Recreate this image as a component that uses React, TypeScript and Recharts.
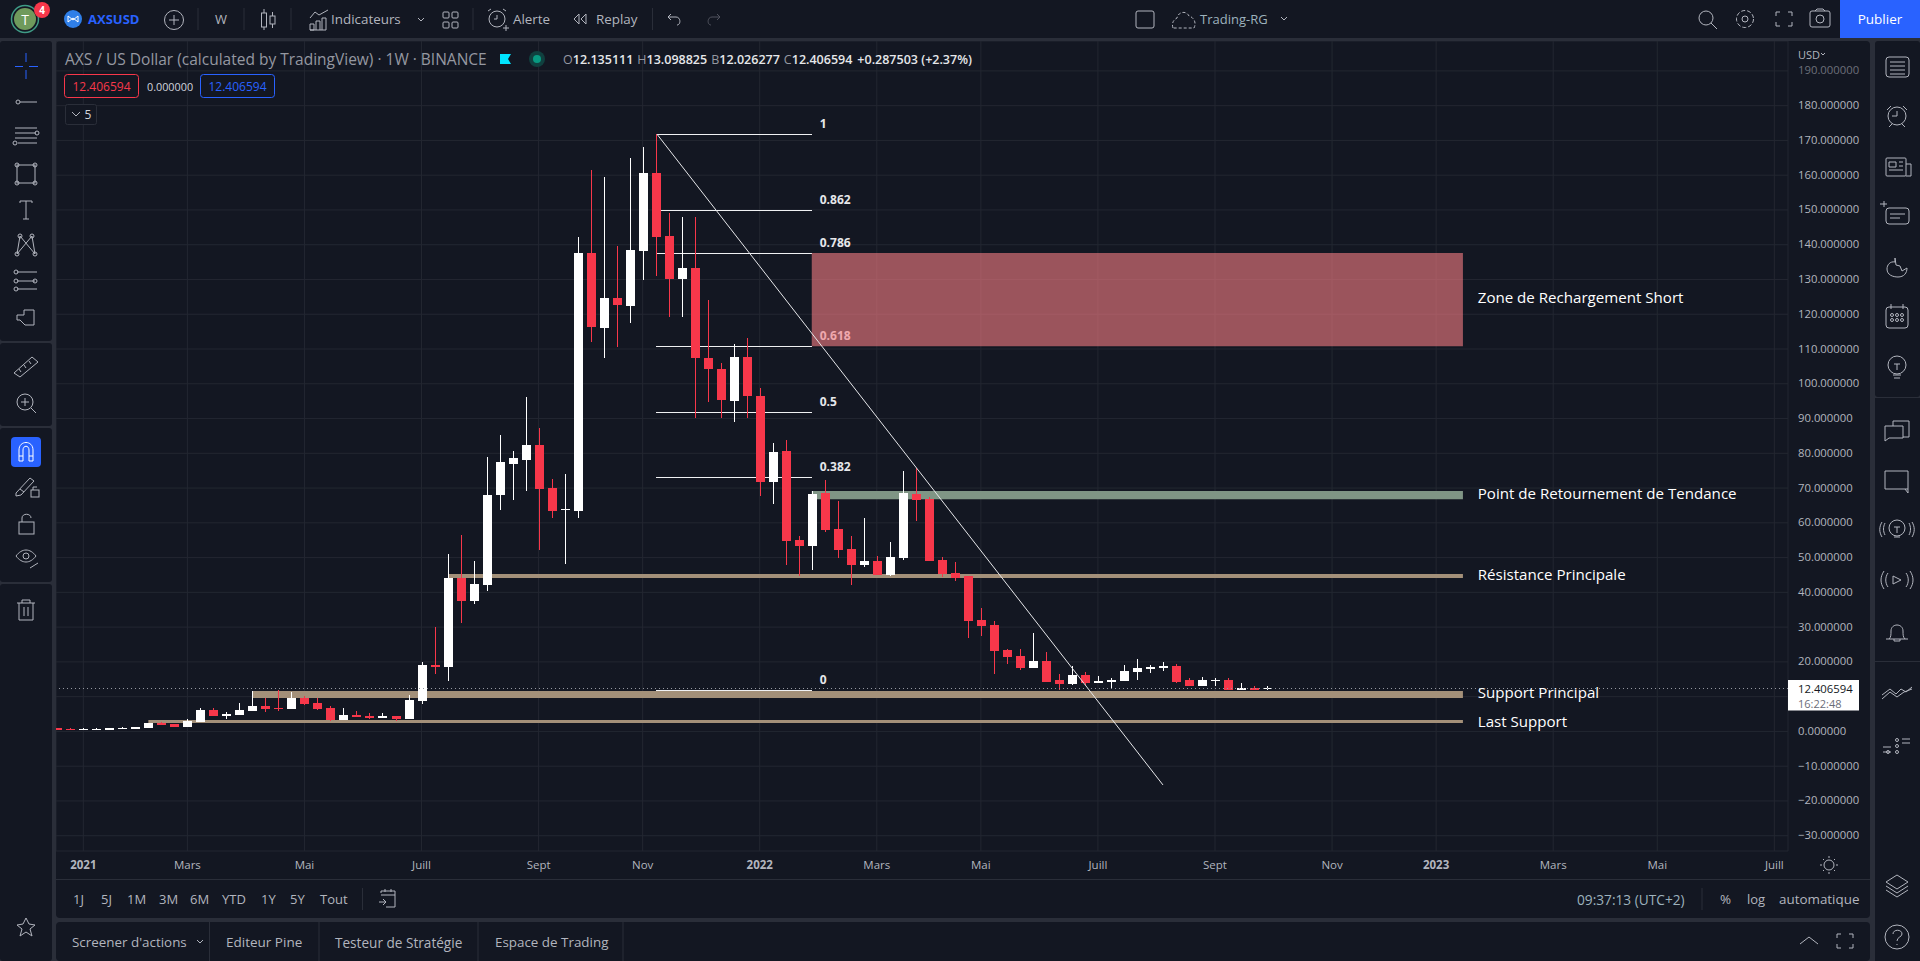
import React from 'react';
import { ComposedChart, Bar, XAxis, YAxis, CartesianGrid, ReferenceLine, ReferenceArea, ReferenceDot } from 'recharts';

const FONT = '"Open Sans", "Noto Sans", sans-serif';
const BG = '#131722';
const GAP = '#2a2e39';
const GRID = '#232731';
const ICON = '#b2b5be';
const RED = '#f7374a';
const BLUE = '#2962ff';
const TAN = '#a39079';

// Weekly candles, first one is week -2 relative to the first week of January 2021
const firstWeek = -2;
const opens = [0.95,0.67,0.38,0.38,0.38,0.67,0.67,0.95,2.39,2.1,1.24,2.68,6.13,4.4,4.69,5.84,7.28,6.71,6.42,9.58,8.15,6.71,3.25,4.69,4.4,3.83,4.4,3.54,8.72,19.08,18.5,44.1,37.5,42.1,68,76.9,78,82.4,69.9,63.6,63.4,137.6,116,124.7,122.4,138.2,160.6,142.5,130.1,133.3,107.4,104.2,95,107.7,96.5,71.7,80.6,55,53.3,68.6,58.2,52.4,47.9,49,44.9,49.8,68.2,66.8,49.2,45.5,44.7,32,30.6,23.4,21.7,18.2,20.2,14.8,13.6,16.2,13.9,14.2,14.5,17.1,17.9,18.2,18.8,14.8,13,14.6,14.8,11.9,12.45,12.135];
const highs = [0.95,0.95,0.95,0.95,0.95,1.24,1.24,2.39,2.68,2.1,3.54,6.71,6.71,5.56,8.15,11.6,9.58,11.9,11.3,10.16,9.58,7.28,6.71,5.84,5.27,5.27,4.4,10.45,19.94,30,50.9,56.4,49,79,85.2,80.6,96.1,87.2,72.6,74.1,142.2,161.5,159.5,139.6,165,168.1,171.8,149.1,148,148,124.1,105.9,111.4,113.2,98.7,82.9,83.8,56.2,69.1,72.3,66.2,56.2,61.3,50.4,54.5,74.8,75.8,67.4,50.2,48.7,44.7,35.5,31.7,23.7,23.7,28.3,22.8,16.5,18.8,17.1,15.9,15.3,19.1,20.8,19.1,20,19.4,15.3,15.6,15.3,15.3,13.9,13,13.098];
const lows = [0.38,0.38,0.38,0.38,0.38,0.67,0.67,0.95,1.82,1.24,1.24,2.68,4.4,3.54,4.69,5.84,5.56,5.84,6.42,7.57,6.13,2.97,3.25,4.1,3.54,3.83,2.97,3.54,7.86,16.5,14.3,31.1,36.6,40.4,63.7,66.5,69.2,52.2,61.3,48.2,61.3,112,107.4,110.6,117.5,129.8,130.9,119.3,119.3,90.2,94.8,90.2,89.1,90.2,67.7,65.4,47.9,44.7,46.4,57.2,49.8,42.2,47.3,44.9,44.7,49.2,60.5,49,44.4,43.2,26.8,27.4,16.5,19.4,17.6,18.2,14.2,11.9,13.3,13.3,13.9,12.5,14.5,14.8,16.8,17.3,13.9,13,13,13,11.9,11.9,11.9,12.026];
const closes = [0.38,0.38,0.67,0.67,0.95,0.95,1.24,2.39,1.82,1.24,2.97,6.13,4.4,4.98,6.13,7.28,6.42,6.42,9.58,7.86,6.42,3.25,4.69,4.1,3.83,4.4,3.54,9,19.08,18.5,44.1,37.5,42.4,68,77.5,78.6,82.4,69.7,63.4,63.9,137.6,116.2,124.7,122.6,138.4,160.6,142.2,130.1,133.3,107.4,104.2,95.3,107.7,96.5,71.7,80.3,54.7,53.3,68.2,57.9,52.2,47.9,49,44.9,50.2,68.6,66.5,49,45.3,44.1,31.7,30.3,23.1,21.4,18.2,20.2,14.2,13.6,16.2,13.9,14.5,14.8,17.4,18.2,18.5,18.8,14.2,13,14.8,14.8,11.9,12.45,11.9,12.406];

// Axes
const tickWeeks = [0,8,17,26,35,43,52,61,69,78,87,96,104,113,121,130];
const tickLabels = ['2021','Mars','Mai','Juill','Sept','Nov','2022','Mars','Mai','Juill','Sept','Nov','2023','Mars','Mai','Juill'];
const priceTicks = [190,180,170,160,150,140,130,120,110,100,90,80,70,60,50,40,30,20,10,0,-10,-20,-30];
const lastPrice = 12.406594;

// Drawings
const zoneStart = 56;
const zoneEnd = 106.06;
const zoneStarts = [5, 13, 28.1, 56];
const zoneLows = [2.39, 9.6, 44.1, 66.76];
const zoneHighs = [3.25, 11.6, 45.3, 69.15];
const zoneColors = [TAN, TAN, TAN, '#7f9585'];
const shortZone = [110.8, 137.6];
const fibLabels = ['1','0.862','0.786','0.618','0.5','0.382','0'];
const fibPrices = [171.8,149.8,137.4,110.7,91.8,73.1,11.7];
const fibStart = 44;
const trendWeeks = [44.1, 83];
const trendPrices = [171.8, -15.4];
const noteLabels = ['Zone de Rechargement Short','Point de Retournement de Tendance','Résistance Principale','Support Principal','Last Support'];
const notePrices = [124.9, 68.7, 45.4, 11.3, 3.1];
const noteWeek = 107.2;

const rows = opens.map((o, i) => ({
  week: firstWeek + i,
  range: [lows[i], highs[i]],
  open: o,
  high: highs[i],
  low: lows[i],
  close: closes[i],
}));

function Candle(p: any) {
  const { x, y, width, height, payload } = p;
  const { open, high, low, close } = payload;
  const span = high - low || 1;
  const cx = Math.round(x + width / 2);
  const yAt = (v: number) => y + ((high - v) / span) * height;
  const top = Math.round(yAt(Math.max(open, close)));
  const bot = Math.round(yAt(Math.min(open, close)));
  const color = close >= open ? '#ffffff' : RED;
  return (
    <g shapeRendering="crispEdges">
      <rect x={cx} y={Math.round(y)} width={1} height={Math.max(1, Math.round(height))} fill={color} />
      <rect x={cx - 4} y={top} width={9} height={Math.max(1, bot - top)} fill={color} />
    </g>
  );
}

function XTick(p: any) {
  const idx = tickWeeks.indexOf(p.payload.value);
  const label = tickLabels[idx];
  const year = label.length === 4 && /^\d/.test(label);
  return (
    <text x={p.x} y={864 - 41} textAnchor="middle" dominantBaseline="central" fontFamily={FONT} fontSize={11.5} fontWeight={year ? 700 : 400} fill="#b2b5be">
      {label}
    </text>
  );
}

function YTick(p: any) {
  const v = p.payload.value;
  return (
    <text x={1798 - 56} y={p.y - 1} dominantBaseline="central" fontFamily={FONT} fontSize={11.3} fill={v === 190 ? '#6d707a' : '#b2b5be'}>
      {(v < 0 ? '\u2212' + Math.abs(v) : String(v)) + '.000000'}
    </text>
  );
}

function Chart() {
  return (
    <ComposedChart width={1814} height={838} data={rows} margin={{ top: 0, right: 0, bottom: 0, left: 0 }} style={{ position: 'absolute', left: 56, top: 41 }}>
      <CartesianGrid stroke={GRID} strokeWidth={1} />
      <XAxis dataKey="week" type="number" domain={[-2.1, 131.05]} allowDataOverflow ticks={tickWeeks} interval={0} height={28} axisLine={false} tickLine={false} tick={<XTick />} />
      <YAxis orientation="right" type="number" domain={[-34.4, 198.6]} allowDataOverflow ticks={priceTicks} interval={0} width={82} axisLine={false} tickLine={false} tick={<YTick />} />
      {fibPrices.map((v, i) => (
        <ReferenceDot key={'fl' + i} x={zoneStart} y={v} r={0} zIndex={10} ifOverflow="visible" shape={(s: any) => (
          <text x={s.cx + 8} y={s.cy - 11} dominantBaseline="central" fontFamily={FONT} fontSize={12} fontWeight={700} fill="#e6e7ea">{fibLabels[i]}</text>
        )} />
      ))}
      {fibPrices.map((v, i) => (
        <ReferenceLine key={'f' + i} segment={[{ x: fibStart, y: v }, { x: zoneStart, y: v }]} stroke="#f0f1f3" strokeWidth={1} shapeRendering="crispEdges" zIndex={11} />
      ))}
      <ReferenceArea x1={zoneStart} x2={zoneEnd} y1={shortZone[0]} y2={shortZone[1]} fill="#f67d83" fillOpacity={0.6} stroke="none" zIndex={12} />
      {zoneStarts.map((s, i) => (
        <ReferenceArea key={'z' + i} x1={s} x2={zoneEnd} y1={zoneLows[i]} y2={zoneHighs[i]} fill={zoneColors[i]} fillOpacity={1} stroke="none" zIndex={13} />
      ))}
      <Bar dataKey="range" barSize={9} isAnimationActive={false} shape={<Candle />} zIndex={20} />
      <ReferenceLine segment={[{ x: trendWeeks[0], y: trendPrices[0] }, { x: trendWeeks[1], y: trendPrices[1] }]} stroke="#e6e7ea" strokeWidth={1} zIndex={30} />
      <ReferenceLine y={lastPrice} stroke="#9598a1" strokeDasharray="1 3" strokeWidth={1} shapeRendering="crispEdges" zIndex={31} />
      {noteLabels.map((t, i) => (
        <ReferenceDot key={'n' + i} x={noteWeek} y={notePrices[i]} r={0} zIndex={32} shape={(s: any) => (
          <text x={s.cx} y={s.cy} dominantBaseline="central" fontFamily={FONT} fontSize={15.1} fill="#ffffff">{t}</text>
        )} />
      ))}
    </ComposedChart>
  );
}

function Tx({ x, y, s = 13.4, c = '#b2b5be', w = 400, a = 'start', children }: any) {
  return <text x={x} y={y} fontFamily={FONT} fontSize={s} fill={c} fontWeight={w} textAnchor={a} dominantBaseline="central">{children}</text>;
}

function G({ x, y, children, c = ICON, sw = 1 }: any) {
  return <g transform={`translate(${x},${y})`} fill="none" stroke={c} strokeWidth={sw}>{children}</g>;
}

const leftIcons: Array<[number, React.ReactNode]> = [
  [102, <><circle cx={-8} r={2} /><path d="M-6 0H11" /></>],
  [134, <><path d="M-11 -6H11M-11 -1H10M-11 4H11M-8 9H11" /><circle cx={11} cy={-1} r={2} /><circle cx={-11} cy={9} r={2} /></>],
  [174, <><rect x={-9} y={-9} width={18} height={18} /><circle cx={-9} cy={-9} r={2} /><circle cx={9} cy={-9} r={2} /><circle cx={-9} cy={9} r={2} /><circle cx={9} cy={9} r={2} /></>],
  [210, <path d="M-6 -9H6M0 -9V9M-3 9H3M-6 -9V-7M6 -9V-7" />],
  [245, <><path d="M-9 9L-6 -9L9 9L6 -9L-9 9" /><circle cx={-9} cy={9} r={2} /><circle cx={-6} cy={-9} r={2} /><circle cx={9} cy={9} r={2} /><circle cx={6} cy={-9} r={2} /></>],
  [281, <><path d="M-9 -9H11M-9 0H9M-9 8H11" /><circle cx={-10} cy={-9} r={2} /><circle cx={-10} cy={0} r={2} /><circle cx={-10} cy={8} r={2} /><circle cx={9} cy={0} r={2} /></>],
  [317, <path d="M-9 -2H-2L-2 -7H8V8H-1L-6 3H-9Z" />],
  [367, <path d="M-12 6L6 -10L12 -5L-6 10ZM-7 2L-5 5M-2 -2L0 1M3 -6L5 -3" />],
  [402, <><circle cx={-1} cy={0} r={8} /><path d="M5 6L10 11M-5 0H3M-1 -4V4" /></>],
  [486, <><path d="M-10 7L4 -8L8 -5L-5 9L-10 10ZM-6 3L-2 6" /><rect x={5} y={4} width={8} height={7} /><path d="M7 4V1H11" /></>],
  [524, <><rect x={-7} y={-2} width={15} height={12} /><path d="M-4 -2V-6C-4 -11 5 -11 5 -6" /></>],
  [558, <><path d="M-10 -2C-4 -10 4 -10 10 -2C4 6 -4 6 -10 -2Z" /><circle cx={0} cy={-2} r={3} /><path d="M4 10L12 5" /></>],
  [610, <><path d="M-9 -7H9M-4 -7V-10H4V-7M-7 -7V10H7V-7M-2 -3V6M2 -3V6" /></>],
  [927, <path d="M0 -9L3 -3L9 -2L4 2L6 9L0 5L-6 9L-4 2L-9 -2L-3 -3Z" />],
];

const rightIcons: Array<[number, React.ReactNode]> = [
  [67, <><rect x={-11} y={-10} width={23} height={20} rx={3} /><path d="M-7 -5H8M-7 -1H8M-7 3H8M-7 7H8" /></>],
  [116, <><circle cx={0} cy={0} r={9} /><path d="M0 -5V0H-5M-10 -6L-6 -10M10 -6L6 -10M-5 8L-8 11M5 8L8 11" /></>],
  [167, <><rect x={-11} y={-9} width={20} height={18} rx={1} /><path d="M9 -3H14V9H9M-8 -5H-1V0H-8ZM2 -5H6M2 -1H6M-8 3H6" /></>],
  [215, <><rect x={-11} y={-7} width={23} height={16} rx={3} /><path d="M-7 -1H8M-7 3H3M-17 -11H-10M-13 -14V-8" /></>],
  [268, <path d="M-2 -10V-6C-7 -7 -10 -3 -10 1C-10 7 -4 9 1 9C7 9 10 5 10 0L5 3L3 -2L-1 -3Z" />],
  [317, <><rect x={-11} y={-10} width={22} height={21} rx={3} /><path d="M-6 -13V-8M6 -13V-8" /><circle cx={-5} cy={-2} r={1.5} /><circle cx={0} cy={-2} r={1.5} /><circle cx={5} cy={-2} r={1.5} /><circle cx={-5} cy={3} r={1.5} /><circle cx={0} cy={3} r={1.5} /><circle cx={5} cy={3} r={1.5} /></>],
  [367, <><circle cx={0} cy={-2} r={9} /><path d="M-4 8H4M-3 11H3M-3 -3H3M0 -3V3" /></>],
  [430, <><path d="M-12 -4H6V8H-8L-12 11ZM-4 -4V-9H12V7H6" /></>],
  [481, <path d="M-12 -10H11V8H3L-1 8L-12 8ZM8 8L11 12V8" />],
  [530, <><circle cx={0} cy={-2} r={8} /><path d="M-3 7H3M-3 -3H3M0 -3V3M-12 -7C-14 -3 -14 1 -12 5M12 -7C14 -3 14 1 12 5M-15 -8C-18 -3 -18 2 -15 7M15 -8C18 -3 18 2 15 7" /></>],
  [580, <><path d="M-4 -4L4 0L-4 4ZM-9 -7C-12 -3 -12 3 -9 7M9 -7C12 -3 12 3 9 7M-13 -9C-17 -3 -17 3 -13 9M13 -9C17 -3 17 3 13 9" /></>],
  [631, <path d="M-11 8H11M-8 8C-6 6 -6 4 -6 0C-6 -8 6 -8 6 0C6 4 6 6 8 8M-3 8V10H3V8" />],
  [693, <path d="M-15 6L-7 -1L0 4L7 -1L15 -4M-15 2L-7 -4L-1 1L4 -4L9 -1L15 -6" />],
  [743, <><circle cx={-9} cy={9} r={1.5} /><circle cx={0} cy={9} r={1.5} /><circle cx={0} cy={3} r={1.5} /><circle cx={0} cy={-3} r={1.5} /><path d="M-14 4H-6M-14 9H-6M5 -4H13M5 0H13" /></>],
  [885, <path d="M0 -10L11 -3L0 4L-11 -3ZM-11 1L0 8L11 1M-11 5L0 12L11 5" />],
  [937, <><circle cx={0} cy={0} r={12} /><path d="M-4 -3C-4 -8 5 -8 5 -3C5 0 0 0 0 4M0 7V8" /></>],
];

function Back() {
  return (
    <svg width={1920} height={961} style={{ position: 'absolute', left: 0, top: 0 }}>
      <rect width={1920} height={961} fill={GAP} />
      <rect x={0} y={0} width={1920} height={38} fill={BG} />
      <rect x={0} y={41} width={52} height={300} rx={3} fill={BG} />
      <rect x={0} y={343} width={52} height={83} rx={3} fill={BG} />
      <rect x={0} y={428} width={52} height={154} rx={3} fill={BG} />
      <rect x={0} y={584} width={52} height={377} rx={3} fill={BG} />
      <rect x={56} y={41} width={1814} height={877} rx={4} fill={BG} />
      <rect x={56} y={922} width={1814} height={39} rx={4} fill={BG} />
      <rect x={1875} y={41} width={45} height={356} rx={3} fill={BG} />
      <rect x={1875} y={398} width={45} height={263} fill={BG} />
      <rect x={1875} y={662} width={45} height={299} fill={BG} />
      <path d="M56 879.5H1870" stroke={GAP} />
    </svg>
  );
}

function Front() {
  const sep = (x: number, y1 = 8, y2 = 30) => <path d={`M${x} ${y1}V${y2}`} stroke={GAP} />;
  return (
    <svg width={1920} height={961} style={{ position: 'absolute', left: 0, top: 0, pointerEvents: 'none' }}>
      {/* top bar */}
      <circle cx={25} cy={19} r={13.5} fill="none" stroke="#3f9b86" strokeWidth={1.5} />
      <circle cx={25} cy={19} r={11} fill="#6f9a5c" />
      <Tx x={25} y={19} s={14} c="#fff" a="middle">T</Tx>
      <circle cx={42} cy={10} r={8} fill={RED} />
      <Tx x={42} y={10} s={10} c="#fff" w={700} a="middle">4</Tx>
      <circle cx={73} cy={19} r={9} fill="#2f7fe8" />
      <path d="M68 16L73 20L78 16V22L73 18L68 22Z" stroke="#fff" fill="none" />
      <Tx x={88} y={19} s={13} c={BLUE} w={700}>AXSUSD</Tx>
      <G x={174} y={20}><circle r={9.5} /><path d="M-5 0H5M0 -5V5" /></G>
      {sep(198)}
      <Tx x={221} y={19} s={13} w={500} a="middle">W</Tx>
      {sep(244)}
      <G x={268} y={20}><rect x={-6.5} y={-7} width={5} height={14} /><rect x={2} y={-4} width={5} height={8} /><path d="M-4 -11V-7M-4 7V10M4.5 -8V-4M4.5 4V8" /></G>
      {sep(291)}
      <G x={319} y={20}><path d="M-9 -2L-4 -8L0 -5L9 -10M-9 10V4H-5V10H-9M-3 10V1H1V10M3 10V-2H7V10H-9" /></G>
      <Tx x={331} y={19}>Indicateurs</Tx>
      <G x={421} y={19}><path d="M-3 -1L0 2L3 -1" /></G>
      <G x={450} y={20}><rect x={-7} y={-8} width={6} height={6} rx={1} /><rect x={2} y={-8} width={6} height={6} rx={1} /><rect x={-7} y={2} width={6} height={6} rx={1} /><rect x={2} y={2} width={6} height={6} rx={1} /></G>
      {sep(473)}
      <G x={497} y={19}><circle r={8} /><path d="M0 -4V0H-3M-9 -8L-6 -10M9 -8L6 -10M6 9H12M9 6V12" /></G>
      <Tx x={513} y={19}>Alerte</Tx>
      <G x={580} y={19}><path d="M-1 -5L-6 0L-1 5ZM6 -5L1 0L6 5Z" /></G>
      <Tx x={596} y={19}>Replay</Tx>
      {sep(652.5)}
      <G x={675} y={19}><path d="M-4 -5L-7 -2L-4 1M-7 -2H1C6 -2 6 6 2 6" /></G>
      <G x={713} y={19} c="#50535e"><path d="M4 -5L7 -2L4 1M7 -2H-1C-6 -2 -6 6 -2 6" /></G>
      <rect x={1136} y={11} width={18} height={17} rx={2} fill="none" stroke={ICON} />
      <G x={1184} y={20}><path d="M-11 8C-13 2 -9 -1 -7 -2C-6 -8 2 -10 5 -4C9 -3 13 2 10 8Z" strokeDasharray="3 2" /></G>
      <Tx x={1200} y={19} s={13} c="#9db2bd">Trading-RG</Tx>
      <G x={1284} y={18}><path d="M-3 -1L0 2L3 -1" /></G>
      <G x={1706} y={18}><circle r={7} /><path d="M5 5L11 11" /></G>
      <G x={1745} y={19}><circle r={3} /><circle r={8.5} strokeDasharray="4 2" /></G>
      <G x={1784} y={19}><path d="M-8 -3V-7H-4M4 -7H8V-3M8 3V7H4M-4 7H-8V3" /></G>
      <G x={1820} y={19}><rect x={-10} y={-8} width={20} height={16} rx={2} /><circle r={4} /><path d="M-5 -8L-3 -10H3L5 -8" /></G>
      <rect x={1840} y={0} width={80} height={38} fill={BLUE} />
      <Tx x={1880} y={19} s={13.5} c="#fff" a="middle">Publier</Tx>

      {/* left toolbar */}
      <path d="M26 53V62M26 70V79M15 66.5H23M29 66.5H38" stroke={BLUE} strokeWidth={1} />
      <rect x={11} y={437} width={30} height={30} rx={4} fill={BLUE} />
      <G x={26} y={452} c="#fff"><path d="M-7 9V-2C-7 -12 7 -12 7 -2V9H3V-2C3 -7 -3 -7 -3 -2V9ZM-7 4H-3M3 4H7" /></G>
      {leftIcons.map(([y, n], i) => <G key={i} x={26} y={y}>{n}</G>)}

      {/* right sidebar */}
      {rightIcons.map(([y, n], i) => <G key={i} x={1897} y={y}>{n}</G>)}

      {/* legend */}
      <Tx x={65} y={59} s={15.5} c="#9598a1">AXS / US Dollar (calculated by TradingView) · 1W · BINANCE</Tx>
      <path d="M500 54H511L508 59L511 64H500Z" fill="#00e5ff" />
      <circle cx={537} cy={59} r={8} fill="#10403f" />
      <circle cx={537} cy={59} r={4} fill="#089981" />
      <text x={563} y={59} fontFamily={FONT} fontSize={12.5} fontWeight={600} fill="#e6e7ea" dominantBaseline="central">
        <tspan fill="#9598a1" fontWeight={400}>O</tspan>12.135111
        <tspan dx={4} fill="#9598a1" fontWeight={400}>H</tspan>13.098825
        <tspan dx={4} fill="#9598a1" fontWeight={400}>B</tspan>12.026277
        <tspan dx={4} fill="#9598a1" fontWeight={400}>C</tspan>12.406594
        <tspan dx={5}>+0.287503 (+2.37%)</tspan>
      </text>
      <rect x={64.5} y={74.5} width={74} height={23} rx={3} fill={BG} stroke={RED} />
      <Tx x={101.5} y={86} s={12} c={RED} a="middle">12.406594</Tx>
      <Tx x={147} y={86} s={10.8} c="#d1d4dc">0.000000</Tx>
      <rect x={200.5} y={74.5} width={74} height={23} rx={3} fill={BG} stroke={BLUE} />
      <Tx x={237.5} y={86} s={12} c={BLUE} a="middle">12.406594</Tx>
      <rect x={65.5} y={104.5} width={31} height={20} rx={2} fill={BG} stroke={GAP} />
      <G x={76} y={114}><path d="M-4 -2L0 2L4 -2" /></G>
      <Tx x={88} y={114} s={12} c="#d1d4dc" a="middle">5</Tx>

      {/* price scale */}
      <Tx x={1798} y={54} s={11} c="#b2b5be">USD</Tx>
      <G x={1823} y={54}><path d="M-2 -1L0 1L2 -1" /></G>
      <rect x={1788} y={680} width={71} height={30.5} fill="#fff" />
      <Tx x={1798} y={688.7} s={11.3} c="#131722">12.406594</Tx>
      <Tx x={1798} y={703} s={11} c="#6a6d78">16:22:48</Tx>
      <G x={1829} y={865}><circle r={5} /><path d="M0 -9V-7M0 7V9M-9 0H-7M7 0H9M-6 -6L-5 -5M6 -6L5 -5M-6 6L-5 5M6 6L5 5" /></G>

      {/* range row */}
      {[['1J',73],['5J',101],['1M',127],['3M',159],['6M',190],['YTD',222],['1Y',261],['5Y',290],['Tout',320]].map(([t, x]: any) => (
        <Tx key={t} x={x} y={899} s={13}>{t}</Tx>
      ))}
      {sep(362.5, 888, 910)}
      <G x={388} y={899}><path d="M-7 -6V-8H7V8H-2M-7 -4H7M-3 -10V-7M3 -10V-7M-9 3H-2M-5 0L-2 3L-5 6" /></G>
      <Tx x={1577} y={899} s={13.7} c="#9db2bd">09:37:13 (UTC+2)</Tx>
      {sep(1702, 888, 910)}
      <Tx x={1720} y={899}>%</Tx>
      <Tx x={1747} y={899} s={13}>log</Tx>
      <Tx x={1779} y={899}>automatique</Tx>

      {/* bottom tabs */}
      <Tx x={72} y={942}>Screener d'actions</Tx>
      <G x={200} y={941}><path d="M-3 -1L0 2L3 -1" /></G>
      {sep(209.5, 922, 961)}
      <Tx x={226} y={942} s={13.5}>Editeur Pine</Tx>
      {sep(319, 922, 961)}
      <Tx x={335} y={942} s={13.6}>Testeur de Stratégie</Tx>
      {sep(478, 922, 961)}
      <Tx x={495} y={942}>Espace de Trading</Tx>
      {sep(623, 922, 961)}
      <G x={1809} y={940}><path d="M-9 4L0 -3L9 4" /></G>
      <G x={1845} y={941}><path d="M-8 -3V-7H-4M4 -7H8V-3M8 3V7H4M-4 7H-8V3" /></G>
    </svg>
  );
}

export default function App() {
  return (
    <div style={{ position: 'fixed', left: 0, top: 0, width: 1920, height: 961, overflow: 'hidden' }}>
      <Back />
      <Chart />
      <Front />
    </div>
  );
}
